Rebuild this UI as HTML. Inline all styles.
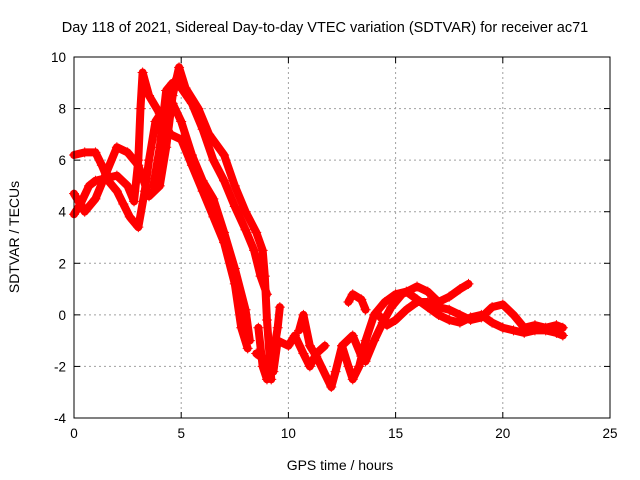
<!DOCTYPE html>
<html><head><meta charset="utf-8"><style>body{margin:0;background:#fff}svg{display:block;font-family:"Liberation Sans",sans-serif}</style></head>
<body>
<svg id="chart" width="640" height="480">
<text x="325" y="32" text-anchor="middle" font-size="14.5">Day 118 of 2021, Sidereal Day-to-day VTEC variation (SDTVAR) for receiver ac71</text>
<text x="340" y="470" text-anchor="middle" font-size="14">GPS time / hours</text>
<text x="19" y="237" text-anchor="middle" font-size="14" transform="rotate(-90 19 237)">SDTVAR / TECUs</text>
<g id="grid"></g><g id="ticks"></g><g id="series"></g>
<rect x="74" y="57" width="536" height="361" fill="none" stroke="#000" stroke-width="1"/>
</svg>
<script>
const xTicks=[0,5,10,15,20,25];
const yTicks=[-4,-2,0,2,4,6,8,10];
const trace1=[[0,6.2],[0.5,6.3],[1,6.3],[1.3,5.8],[1.6,5.2],[2,4.8],[2.3,4.3],[2.6,3.8],[3,3.4],[3.3,4.8],[3.5,6],[3.8,7.5],[4.2,8],[4.6,8.2],[5,7.5],[5.5,6.2],[6,5.2],[6.5,4.5],[7,3.2],[7.5,1.8],[8,0.2],[8.2,-1.0]];
const trace2=[[0,3.9],[0.3,4.3],[0.7,5.0],[1,5.2],[1.5,5.3],[2,5.4],[2.5,5.0],[2.8,4.4],[3.0,6],[3.1,8],[3.2,9.4],[3.5,8.5],[4,7.8],[4.5,7.0],[5,6.8],[5.5,5.8],[6,4.8],[6.5,3.8],[7,2.8],[7.5,1.2],[7.8,-0.5],[8.1,-1.3]];
const trace3=[[0,4.7],[0.5,4.0],[1,4.5],[1.5,5.5],[2,6.5],[2.5,6.3],[3,5.8],[3.5,4.6],[4,5.0],[4.3,6.5],[4.6,8.5],[4.9,9.6],[5.2,8.8],[5.8,8.0],[6.3,7],[7,6.2],[7.5,5],[8,4],[8.5,3.2],[8.8,2.5],[8.9,1.5],[9,-0.2],[9.2,-2.5]];
const trace4=[[3.7,5.0],[4,6.5],[4.3,8.7],[4.6,9.0],[5,8.8],[5.5,8.2],[6,7.2],[6.5,6.0],[7,5.2],[7.5,4.2],[8,3.3],[8.4,2.5],[8.7,1.5],[9,0.8]];
const trace5=[[8.5,-1.5],[9,-1.8],[9.3,-2.2],[9.5,-1],[10,-1.2],[10.3,-0.8],[10.7,-1.5],[11,-2.0],[11.3,-1.5],[11.7,-1.2]];
const trace6=[[8.6,-0.5],[8.8,-2],[9,-2.5],[9.3,-1.5],[9.5,-0.5],[9.6,0.3]];
const trace7=[[10.5,-0.6],[10.7,0],[11,-1.2],[11.3,-1.6],[12,-2.8],[12.2,-2.2],[12.5,-1.2],[13,-0.8],[13.4,-1.6],[13.6,-1.8],[14,-1],[14.4,-0.3],[14.8,0.3],[15.3,0.8],[16,1.1],[16.5,0.9],[17,0.5],[17.5,0.7],[18,1.0],[18.4,1.2]];
const trace8=[[12.5,-1.2],[12.8,-2],[13,-2.5],[13.3,-2.0],[13.6,-1],[14,0],[14.5,0.5],[15,0.8],[15.5,0.9],[16,0.6],[16.5,0.3],[17,0.0],[17.5,-0.2],[18,-0.3],[18.5,-0.1],[19,0],[19.5,-0.3],[20,-0.5],[20.5,-0.6],[21,-0.7],[21.5,-0.6],[22,-0.6],[22.5,-0.7],[22.8,-0.8]];
const trace9=[[12.8,0.5],[13,0.8],[13.4,0.6],[13.6,0.2]];
const trace10=[[14.2,0],[14.6,-0.4],[15,-0.2],[15.5,0.2],[16,0.5],[16.5,0.5],[17,0.3],[17.5,0.2],[18,0],[18.5,-0.2],[19,-0.1],[19.5,0.3],[20,0.4],[20.5,0],[21,-0.5],[21.5,-0.4],[22,-0.5],[22.5,-0.4],[22.8,-0.5]];
const traces=[trace1,trace2,trace3,trace4,trace5,trace6,trace7,trace8,trace9,trace10];
const X0=74,X1=610,Y0=418,Y1=57,xmin=0,xmax=25,ymin=-4,ymax=10;
function sx(v){return X0+(v-xmin)/(xmax-xmin)*(X1-X0);}
function sy(v){return Y0-(v-ymin)/(ymax-ymin)*(Y0-Y1);}
const NS="http://www.w3.org/2000/svg";
function mk(t,a,p){const e=document.createElementNS(NS,t);for(const k in a)e.setAttribute(k,a[k]);p.appendChild(e);return e;}
const grid=document.getElementById('grid'),ticks=document.getElementById('ticks'),ser=document.getElementById('series');
xTicks.forEach(v=>{const x=sx(v);
 if(v>xmin&&v<xmax){const g=mk('line',{x1:x,x2:x,y1:Y1,y2:Y0,stroke:'#a0a0a0','stroke-dasharray':'2,3'},grid);
 
 }
 mk('line',{x1:x,x2:x,y1:Y0,y2:Y0-6,stroke:'#000'},ticks);mk('line',{x1:x,x2:x,y1:Y1,y2:Y1+6,stroke:'#000'},ticks);
 const t=mk('text',{x:x,y:Y0+20,'text-anchor':'middle','font-size':'13.5'},ticks);t.textContent=v;
 
 });
yTicks.forEach(v=>{const y=sy(v);
 if(v>ymin&&v<ymax){const g=mk('line',{x1:X0,x2:X1,y1:y,y2:y,stroke:'#a0a0a0','stroke-dasharray':'2,3'},grid);
 
 }
 mk('line',{x1:X0,x2:X0+6,y1:y,y2:y,stroke:'#000'},ticks);mk('line',{x1:X1,x2:X1-6,y1:y,y2:y,stroke:'#000'},ticks);
 const t=mk('text',{x:X0-8,y:y+5,'text-anchor':'end','font-size':'13.5'},ticks);t.textContent=v;
 
 });
traces.forEach((tr,i)=>{
 const pl=mk('polyline',{points:tr.map(p=>sx(p[0])+','+sy(p[1])).join(' '),fill:'none',stroke:'#ff0000','stroke-width':8,'stroke-linejoin':'round','stroke-linecap':'round'},ser);
 
 
 tr.forEach(p=>{const x=sx(p[0]),y=sy(p[1]);
  const m=mk('path',{d:`M${x-5},${y}H${x+5}M${x},${y-5}V${y+5}`,stroke:'#ff0000','stroke-width':1},ser);
  
  });
});
</script>
</body></html>
